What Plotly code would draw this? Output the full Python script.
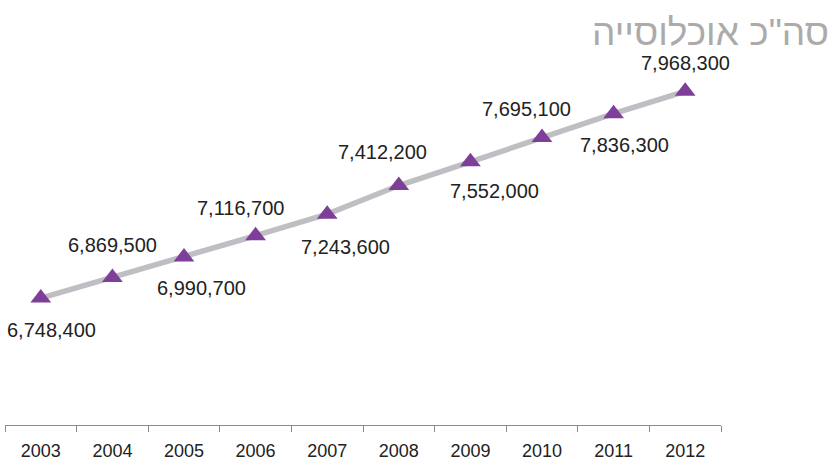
import plotly.graph_objects as go

# total population by year
years = ["2003", "2004", "2005", "2006", "2007", "2008", "2009", "2010", "2011", "2012"]
population = [6748400, 6869500, 6990700, 7116700, 7243600, 7412200, 7552000, 7695100, 7836300, 7968300]
title_text = 'סה"כ אוכלוסייה'

# label offsets in pixels (dx, dy), alternating below / above the line
label_offsets = [(11, 32), (0, -33), (17, 31), (-15, -28), (18, 33),
                 (-16, -34), (24, 29), (-16, -29), (11, 31), (0, -28)]

fig = go.Figure()

fig.add_trace(go.Scatter(
    x=years,
    y=population,
    mode="lines+markers",
    line=dict(color="#bfbfc3", width=5.5),
    marker=dict(symbol="triangle-up", size=18, color="#7e3f98",
                line=dict(width=0)),
    hoverinfo="x+y",
    showlegend=False,
))

# value labels, placed by category index
for i, (val, (dx, dy)) in enumerate(zip(population, label_offsets)):
    fig.add_annotation(
        x=i, y=val, text=f"{val:,}", showarrow=False,
        xshift=dx, yshift=-dy,
        font=dict(family="Liberation Sans, Arial", size=20, color="#222222"),
    )

fig.add_annotation(
    text=title_text, xref="paper", yref="paper", x=1.1536, y=1.053,
    xanchor="right", yanchor="middle", showarrow=False,
    font=dict(family="Liberation Sans, Arial", size=37, color="#ababab"),
)

fig.update_layout(
    width=838, height=466,
    margin=dict(l=5, r=117, t=52, b=37),
    paper_bgcolor="white", plot_bgcolor="white",
    xaxis=dict(
        type="category", tickson="boundaries", ticks="outside", ticklen=6,
        tickcolor="#8c8c8c", showline=True, linecolor="#8c8c8c", linewidth=1,
        showgrid=False, zeroline=False, ticklabelstandoff=9,
        tickfont=dict(family="Liberation Sans, Arial", size=18, color="#222222"),
        range=[-0.5, 9.5],
    ),
    yaxis=dict(
        range=[6000000, 8200000], visible=False, showgrid=False, zeroline=False,
    ),
)

fig.write_html("out.html", config={"displayModeBar": False},
               post_script="document.body.style.margin='0';")
